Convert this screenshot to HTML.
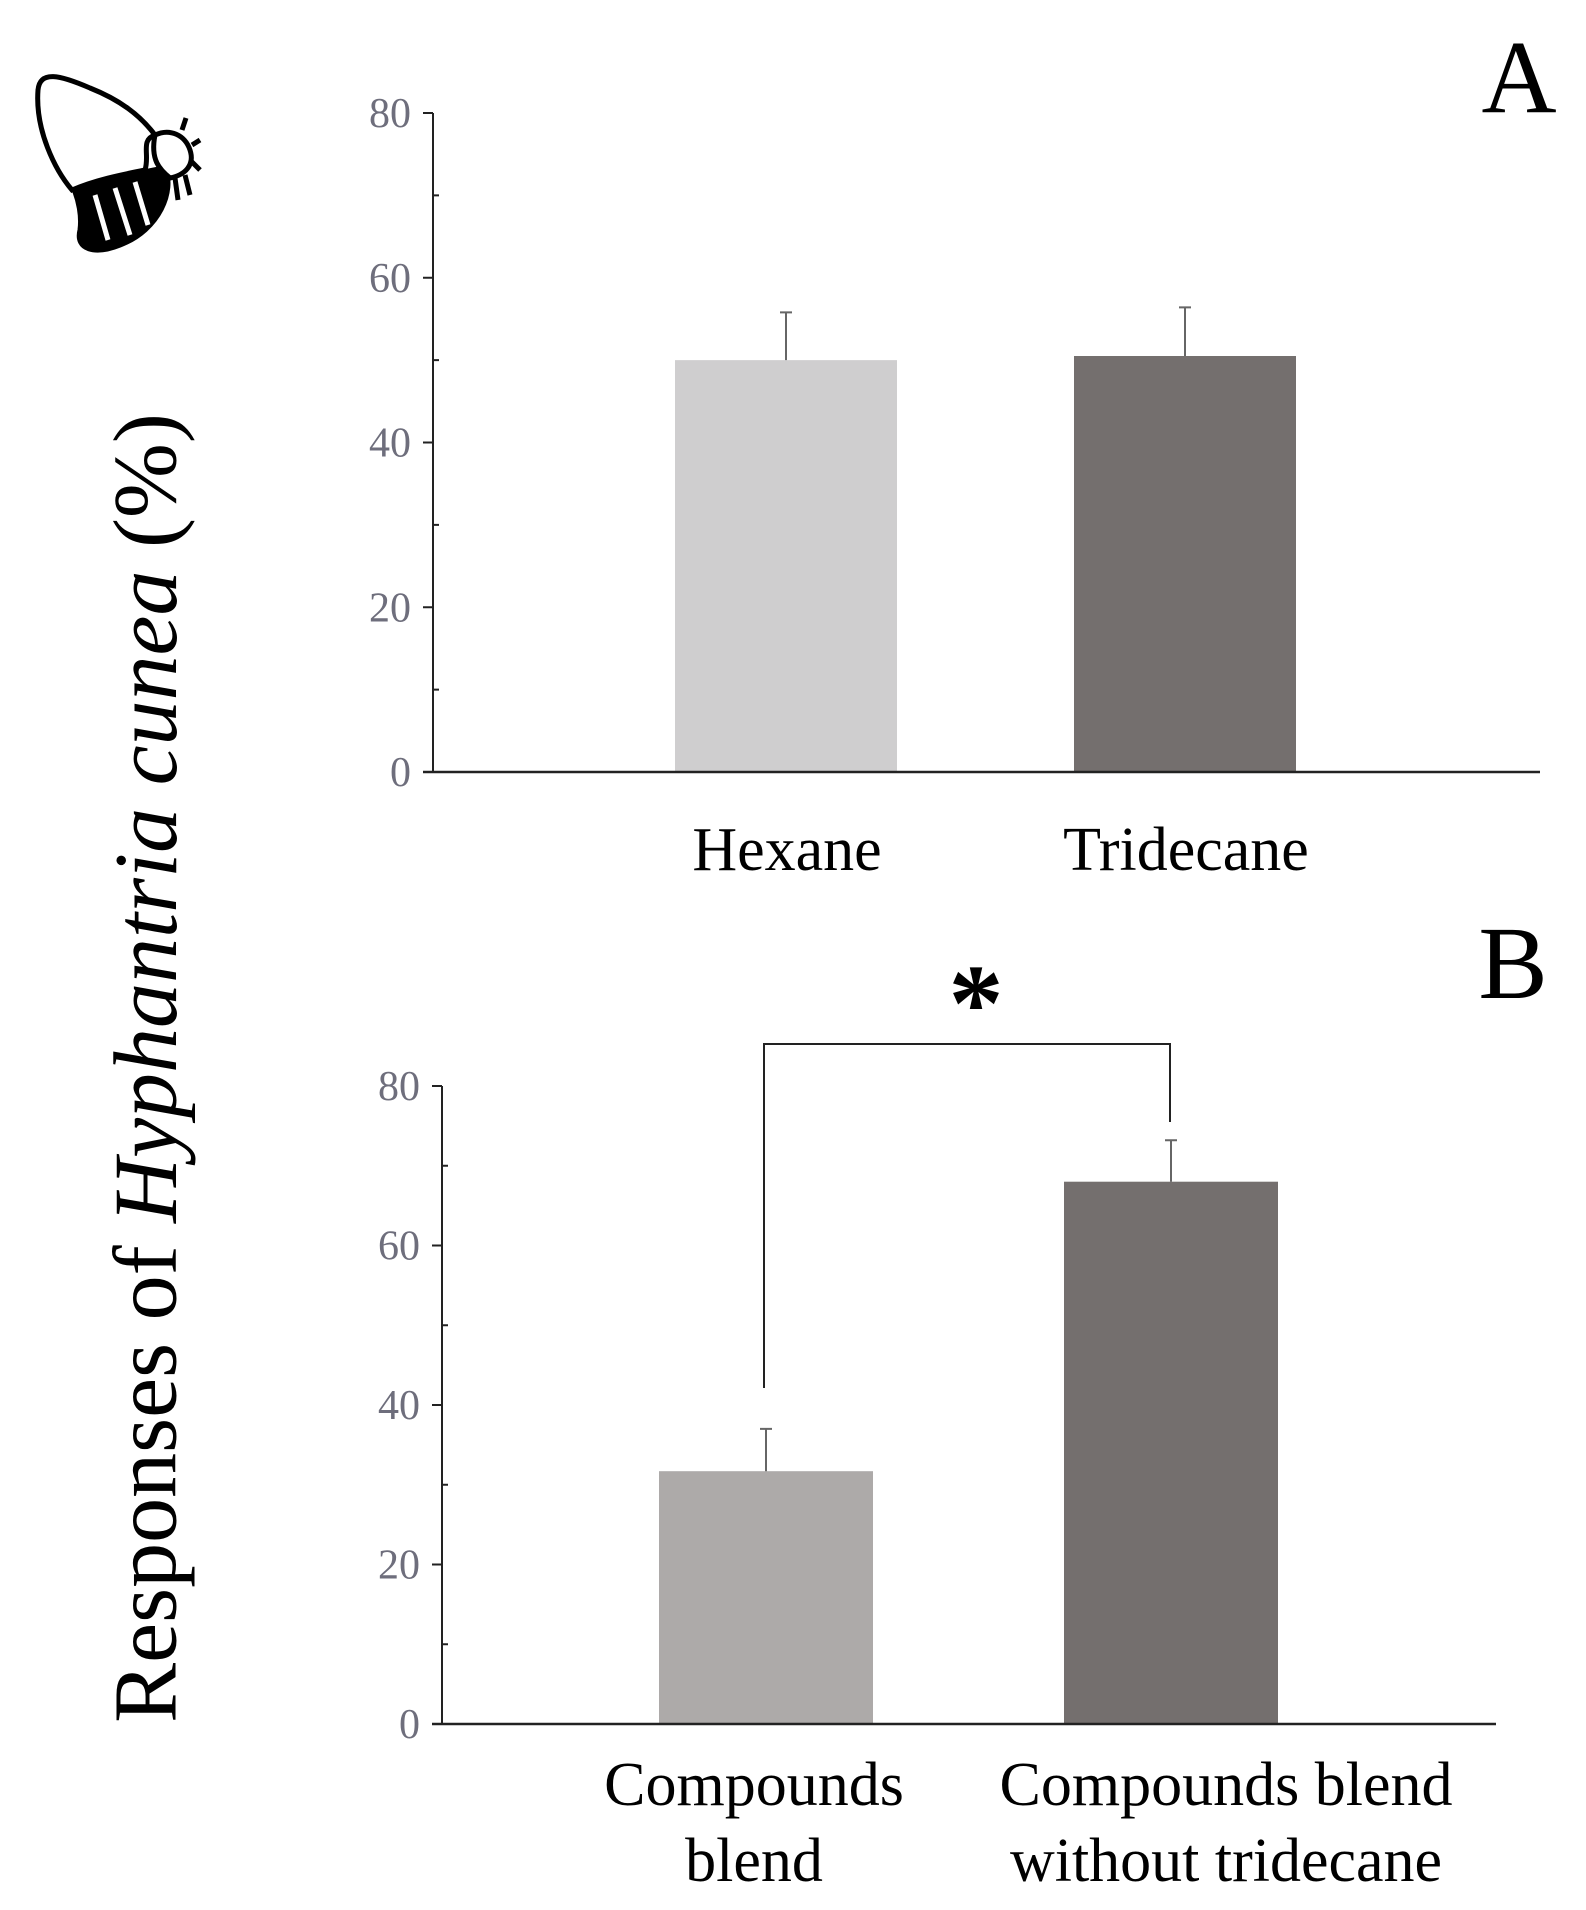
<!DOCTYPE html>
<html><head><meta charset="utf-8"><style>
html,body{margin:0;padding:0;background:#fff;}
svg{display:block;font-family:"Liberation Serif",serif;}
</style></head><body>
<svg id="c" width="1586" height="1910" viewBox="0 0 1586 1910">
<g fill="none" stroke="#000" stroke-width="5">
<path d="M38,90 C40,70 60,75 90,88 C120,100 140,115 155,135 C140,140 150,155 145,170 C120,175 95,180 72,190 C55,170 35,130 38,90 Z"/>
<path d="M75,192 C100,182 140,172 165,168 C175,190 160,230 120,245 C95,255 75,250 80,230 C82,215 78,200 75,192 Z" fill="#000"/>
<path d="M95,195 L108,240 M115,188 L130,235 M135,182 L148,225" stroke="#fff" stroke-width="5"/>
<path d="M155,135 C170,128 185,135 190,150 C195,165 185,175 170,178 C160,170 150,160 155,135 Z" fill="#fff"/>
<path d="M182,130 L186,118 M192,145 L200,140 M190,160 L200,170 M185,175 L190,195 M175,178 L178,200"/>
</g>
<g id="pa"></g>
<g id="pb"></g>
<text x="146" y="1068" transform="rotate(-90 146 1068)" text-anchor="middle" dominant-baseline="central" font-size="90" fill="#000">Responses of <tspan font-style="italic">Hyphantria cunea</tspan> (%)</text>
<text x="1519" y="112" text-anchor="middle" font-size="104">A</text>
<text x="1513" y="998" text-anchor="middle" font-size="104">B</text>
</svg>
<script>
const ticks=[0,20,40,60,80];
const catsA=[["Hexane"],["Tridecane"]];
const valsA=[50,50.5];
const errA=[5.8,5.9];
const colsA=["#cfcecf","#746f6e"];
const catsB=[["Compounds","blend"],["Compounds blend","without tridecane"]];
const valsB=[31.7,68];
const errB=[5.3,5.2];
const colsB=["#adaaa9","#746f6e"];
const NS="http://www.w3.org/2000/svg";
function mk(p,t,a,txt){const e=document.createElementNS(NS,t);for(const k in a)e.setAttribute(k,a[k]);if(txt!=null)e.textContent=txt;p.appendChild(e);return e;}
function panel(g,cfg,cats,vals,errs,cols){
  const y=v=>cfg.y0-(cfg.y0-cfg.y80)*v/80;
  const ax=mk(g,'line',{x1:cfg.ax,y1:y(80),x2:cfg.ax,y2:y(0),stroke:'#222','stroke-width':2});
  
  
  for(let v=0;v<=80;v+=10){
    const t=mk(g,'line',{x1:cfg.ax-(v%20?0:10),y1:y(v),x2:cfg.ax+(v%20?6:0),y2:y(v),stroke:'#222','stroke-width':2});
    
    
  }
  ticks.forEach(v=>{
    const t=mk(g,'text',{x:cfg.ax-22,y:y(v)+14,'text-anchor':'end','font-size':42,fill:'#6e6e7c'},v);
    
    
  });
  vals.forEach((v,i)=>{
    const x0=cfg.bx[i],w=cfg.bw,cx=x0+w/2;
    const b=mk(g,'rect',{x:x0,y:y(v),width:w,height:y(0)-y(v),fill:cols[i]});
    
    
    const e=mk(g,'path',{d:`M${cx},${y(v)} V${y(v+errs[i])} M${cx-6},${y(v+errs[i])} H${cx+6}`,stroke:'#666','stroke-width':2,fill:'none'});
    
    
    cats[i].forEach((s,j)=>{
      const t=mk(g,'text',{x:cfg.lx[i],y:cfg.ly+j*76,'text-anchor':'middle','font-size':62,fill:'#000'},s);
      
      
    });
  });
  const xa=mk(g,'line',{x1:cfg.ax-10,y1:y(0),x2:cfg.xend,y2:y(0),stroke:'#222','stroke-width':2.5});
  
  
  return y;
}
panel(document.getElementById('pa'),{ax:433,y0:772,y80:113,xend:1540,bx:[675,1074],bw:222,lx:[787,1186],ly:870},catsA,valsA,errA,colsA);
const pb=document.getElementById('pb');
panel(pb,{ax:442,y0:1724,y80:1086,xend:1496,bx:[659,1064],bw:214,lx:[754,1226],ly:1805},catsB,valsB,errB,colsB);
const br=mk(pb,'path',{d:'M764,1388 V1044 H1170 V1122',stroke:'#222','stroke-width':2,fill:'none'});


const st=mk(pb,'text',{x:976,y:1040,'text-anchor':'middle','font-size':110,'font-weight':'bold',fill:'#000'},'*');


</script>
</body></html>
